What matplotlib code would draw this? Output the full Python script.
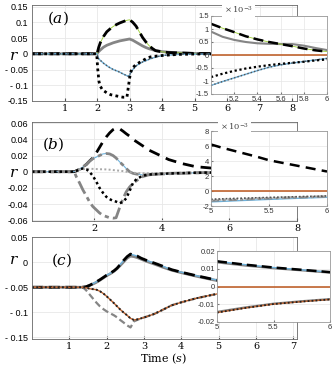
import matplotlib
matplotlib.use("Agg")
import matplotlib.pyplot as plt
import numpy as np

plt.rcParams["mathtext.fontset"] = "dejavuserif"

W, H = 335, 368

# ---------------- panel (a) data ----------------
ta = [0, 2.0, 2.05, 2.1, 2.2, 2.3, 2.4, 2.5, 2.6, 2.7, 2.8, 2.9, 3.0, 3.1, 3.2,
      3.3, 3.4, 3.5, 3.6, 3.7, 3.8, 4.0, 4.2, 4.5, 5.0, 6.0, 8.2]
a_dash = [0, 0, 0.02, 0.035, 0.055, 0.07, 0.079, 0.087, 0.093, 0.098, 0.102, 0.106,
          0.108, 0.100, 0.088, 0.070, 0.052, 0.038, 0.026, 0.017, 0.010, 0.006,
          0.004, 0.003, 0.0012, 0.0002, 0]
a_solid = [0, 0, 0.007, 0.012, 0.021, 0.027, 0.031, 0.035, 0.038, 0.041, 0.043,
           0.045, 0.047, 0.043, 0.037, 0.031, 0.025, 0.020, 0.016, 0.013, 0.010,
           0.007, 0.005, 0.003, 0.0009, 0.0002, 0]
ta_dot = [0, 1.99, 2.02, 2.06, 2.1, 2.17, 2.3, 2.42, 2.6, 2.8, 2.92, 2.97, 3.02,
          3.07, 3.2, 3.33, 3.5, 3.64, 3.85, 4.05, 4.5, 5.0, 6.0, 8.2]
a_dot = [0, 0, -0.047, -0.088, -0.103, -0.115, -0.124, -0.13, -0.134, -0.138,
         -0.138, -0.10, -0.065, -0.047, -0.034, -0.026, -0.016, -0.010, -0.007,
         -0.005, -0.002, -0.0008, -0.0002, 0]
ta_blue = [0, 2.0, 2.05, 2.2, 2.36, 2.5, 2.67, 2.8, 2.97, 3.1, 3.23, 3.4, 3.64,
           3.85, 4.05, 4.5, 5.0, 6.0, 8.2]
a_blue = [0, 0, -0.016, -0.03, -0.042, -0.05, -0.057, -0.064, -0.072, -0.05,
          -0.036, -0.026, -0.016, -0.009, -0.005, -0.002, -0.0012, -0.0002, 0]

# inset (a), values x 1e-3
tia = [5.0, 5.1, 5.2, 5.3, 5.4, 5.5, 5.6, 5.7, 5.8, 5.9, 6.0]
ia_dash = [1.2, 1.03, 0.88, 0.72, 0.6, 0.5, 0.42, 0.34, 0.25, 0.18, 0.13]
ia_solid = [0.9, 0.7, 0.58, 0.5, 0.45, 0.43, 0.42, 0.42, 0.36, 0.27, 0.19]
ia_dot = [-0.85, -0.72, -0.61, -0.52, -0.45, -0.39, -0.34, -0.3, -0.26, -0.21, -0.17]
ia_blue = [-1.17, -1.02, -0.88, -0.74, -0.6, -0.47, -0.38, -0.31, -0.25, -0.19, -0.13]

# ---------------- panel (b) data ----------------
tb = [0.15, 1.4, 1.46, 1.56, 1.66, 1.76, 1.85, 1.95, 2.05, 2.15, 2.25, 2.35, 2.45,
      2.55, 2.64, 2.75, 2.85, 2.94, 3.04, 3.14, 3.25, 3.43, 3.6, 3.9, 4.2, 4.6,
      5.0, 6.0, 8.0]
b_dash = [0, 0, 0.001, 0.003, 0.006, 0.009, 0.013, 0.017, 0.023, 0.030, 0.037,
          0.043, 0.048, 0.052, 0.054, 0.053, 0.050, 0.047, 0.044, 0.040, 0.037,
          0.032, 0.027, 0.021, 0.015, 0.010, 0.0062, 0.0025, 0]
b_top = [0, 0, 0.001, 0.003, 0.006, 0.009, 0.013, 0.016, 0.018, 0.020, 0.022,
         0.0225, 0.022, 0.020, 0.017, 0.012, 0.008, 0.004, 0.0, -0.002, -0.003,
         -0.004, -0.0035, -0.003, -0.0025, -0.002, -0.0014, -0.0008, 0]
b_lightdot = [0, 0, 0.001, 0.002, 0.003, 0.0035, 0.0035, 0.0035, 0.0033, 0.003,
              0.003, 0.0028, 0.0025, 0.002, 0.0017, 0.0012, 0.0007, 0.0, -0.0007,
              -0.0012, -0.0017, -0.002, -0.002, -0.002, -0.0018, -0.0016, -0.0013,
              -0.0007, 0]
b_dot = [0, 0, 0.001, 0.003, 0.004, 0.003, 0.0, -0.005, -0.012, -0.02, -0.026,
         -0.031, -0.034, -0.036, -0.037, -0.039, -0.037, -0.033, -0.024, -0.014,
         -0.009, -0.005, -0.0035, -0.0028, -0.0022, -0.0017, -0.0013, -0.0007, 0]
b_bot = [0, 0, -0.006, -0.014, -0.0227, -0.030, -0.037, -0.043, -0.047, -0.051,
         -0.054, -0.0555, -0.057, -0.0575, -0.057, -0.044, -0.033, -0.025, -0.019,
         -0.0145, -0.011, -0.006, -0.004, -0.0025, -0.002, -0.0016, -0.0013,
         -0.0007, 0]

# inset (b), values x 1e-3
tib = [5.0, 5.1, 5.2, 5.3, 5.4, 5.5, 5.6, 5.7, 5.8, 5.9, 6.0]
ib_dash = [6.2, 5.75, 5.35, 4.95, 4.55, 4.1, 3.8, 3.5, 3.2, 2.9, 2.6]
tib_low = [5.0, 5.25, 5.5, 5.75, 6.0]
ib_blue = [-1.45, -1.28, -1.12, -0.97, -0.84]
ib_dashdot = [-1.3, -1.15, -1.0, -0.87, -0.75]
ib_dot = [-1.2, -1.06, -0.93, -0.81, -0.7]
ib_bdot = [-1.1, -0.97, -0.86, -0.76, -0.66]

# ---------------- panel (c) data ----------------
tc = [0, 1.36, 1.45, 1.55, 1.65, 1.73, 1.82, 1.92, 2.0, 2.1, 2.2, 2.28, 2.36, 2.45,
      2.55, 2.64, 2.73, 2.82, 2.92, 3.05, 3.28, 3.5, 3.74, 4.0, 4.4, 4.84, 5.2,
      5.6, 6.0, 6.5, 7.1]
c_dash = [-0.05, -0.05, -0.049, -0.046, -0.042, -0.039, -0.035, -0.030, -0.026,
          -0.022, -0.017, -0.012, -0.005, 0.003, 0.011, 0.016, 0.014, 0.012, 0.008,
          0.004, -0.002, -0.008, -0.015, -0.02, -0.027, -0.034, -0.039, -0.043,
          -0.046, -0.049, -0.051]
c_solid = [-0.05, -0.05, -0.049, -0.046, -0.043, -0.04, -0.036, -0.031, -0.027,
           -0.023, -0.018, -0.013, -0.007, 0.0, 0.008, 0.012, 0.011, 0.009, 0.006,
           0.002, -0.004, -0.010, -0.016, -0.021, -0.028, -0.035, -0.04, -0.044,
           -0.047, -0.05, -0.052]
c_dot = [-0.05, -0.05, -0.051, -0.053, -0.054, -0.055, -0.058, -0.063, -0.068,
         -0.075, -0.082, -0.088, -0.094, -0.100, -0.106, -0.112, -0.115, -0.114,
         -0.112, -0.109, -0.103, -0.095, -0.086, -0.08, -0.072, -0.065, -0.06,
         -0.056, -0.052, -0.048, -0.045]
c_gdash = [-0.05, -0.05, -0.056, -0.065, -0.074, -0.081, -0.088, -0.094, -0.098,
           -0.102, -0.106, -0.11, -0.115, -0.12, -0.126, -0.13, -0.118, -0.115,
           -0.112, -0.109, -0.103, -0.095, -0.086, -0.08, -0.072, -0.065, -0.06,
           -0.056, -0.052, -0.048, -0.045]

# inset (c)
tic = [5.0, 5.25, 5.5, 5.75, 6.0]
ic_dash = [0.0142, 0.0123, 0.0107, 0.0094, 0.0081]
ic_solid = [0.0136, 0.0118, 0.0103, 0.0091, 0.0078]
ic_dot = [-0.0147, -0.0121, -0.0099, -0.0085, -0.0073]
ic_gray = [-0.0143, -0.0118, -0.0097, -0.0083, -0.0071]

# tick labels
a_yt = [0.15, 0.1, 0.05, 0, -0.05, -0.1, -0.15]
a_ytl = ["0.15", "0.1", "0.05", "0", "- 0.05", "- 0.1", "-0.15"]
b_yt = [0.06, 0.04, 0.02, 0, -0.02, -0.04, -0.06]
b_ytl = ["0.06", "0.04", "0.02", "0", "-0.02", "-0.04", "-0.06"]
c_yt = [0.05, 0, -0.05, -0.1, -0.15]
c_ytl = ["0.05", "0", "- 0.05", "- 0.1", "- 0.15"]

# styles
BLK = "black"
GRY = "#858585"
LGRY = "#a8a8a8"
BLUE = "#6fb3dd"
GRN = "#9acd32"
ORG = "#c0622d"
SERIF = "DejaVu Serif"
SANS = "Liberation Sans"


def box(l, r, t, b):
    return [l / W, 1 - b / H, (r - l) / W, (b - t) / H]


def style_main(ax, xlim, ylim, xt, yt, ytl):
    ax.set_xlim(*xlim)
    ax.set_ylim(*ylim)
    ax.set_xticks(xt)
    ax.set_xticklabels([str(v) for v in xt], fontfamily=SERIF, fontsize=7)
    ax.set_yticks(yt)
    ax.set_yticklabels(ytl, fontfamily=SANS, fontsize=6.5)
    ax.tick_params(axis="x", direction="in", length=2, pad=2, color="#555555")
    ax.tick_params(axis="y", length=0, pad=3)
    ax.grid(True, color="#e8e8e8", lw=0.6)
    ax.set_axisbelow(True)
    for s in ax.spines.values():
        s.set_color("#666666")
        s.set_linewidth(0.6)


def style_inset(ax, xlim, ylim, xt, xtl, yt, ytl):
    ax.set_xlim(*xlim)
    ax.set_ylim(*ylim)
    ax.set_xticks(xt)
    ax.set_xticklabels(xtl, fontfamily=SANS, fontsize=5.5, color="#333333")
    ax.set_yticks(yt)
    ax.set_yticklabels(ytl, fontfamily=SANS, fontsize=5.5, color="#333333")
    ax.tick_params(direction="in", length=1.5, pad=1.5, color="#777777")
    ax.grid(True, color="#e6e6e6", lw=0.5)
    ax.set_axisbelow(True)
    for s in ax.spines.values():
        s.set_color("#999999")
        s.set_linewidth(0.6)


fig = plt.figure(figsize=(W / 100, H / 100), dpi=100)

# ======== (a) ========
ax = fig.add_axes(box(32, 297, 5, 101))
ax.plot(ta, a_solid, color=GRY, lw=2)
ax.plot(ta, a_dash, color=GRN, lw=0.6)
ax.plot(ta, a_dash, color=BLK, lw=2, dashes=(4, 2))
ax.plot(ta_blue, a_blue, color=BLUE, lw=1)
ax.plot(ta_blue, a_blue, color="#555555", lw=1, dashes=(1, 1.5))
ax.plot(ta_dot, a_dot, color=BLK, lw=2, dashes=(1, 1.2))
style_main(ax, (0, 8.15), (-0.15, 0.155), list(range(1, 9)), a_yt, a_ytl)
ax.text(0.45, 0.1, "$(a)$", fontsize=11)
fig.text(9 / W, 1 - 55 / H, "$r$", fontsize=11, va="center")

ix = fig.add_axes(box(211, 327, 16, 94))
ix.axhline(0, color=ORG, lw=1.2)
ix.plot(tia, ia_solid, color=GRY, lw=1.5)
ix.plot(tia, ia_dash, color=GRN, lw=0.6)
ix.plot(tia, ia_dash, color=BLK, lw=1.8, dashes=(4, 2))
ix.plot(tia, ia_blue, color=BLUE, lw=1)
ix.plot(tia, ia_blue, color="#555555", lw=1, dashes=(1, 1.5))
ix.plot(tia, ia_dot, color=BLK, lw=1.6, dashes=(1, 1.2))
style_inset(ix, (5, 6), (-1.5, 1.5), [5.2, 5.4, 5.6, 5.8, 6.0],
            ["5.2", "5.4", "5.6", "5.8", "6"],
            [-1.5, -1, -0.5, 0, 0.5, 1, 1.5],
            ["-1.5", "-1", "-0.5", "0", "0.5", "1", "1.5"])
fig.text(224 / W, 1 - 10 / H, r"$\times\,10^{-3}$", fontsize=6, color="#444444",
         va="center", bbox=dict(fc="white", ec="none", pad=1.5))

# ======== (b) ========
ax = fig.add_axes(box(32, 297, 122, 221))
ax.plot(tb, b_dash, color=BLK, lw=2, dashes=(4, 2.5))
ax.plot(tb, b_top, color=BLUE, lw=0.8)
ax.plot(tb, b_top, color=GRY, lw=2, dashes=(5, 1.5, 1.5, 1.5))
ax.plot(tb, b_lightdot, color=LGRY, lw=1.4, dashes=(1, 1.2))
ax.plot(tb, b_bot, color=GRY, lw=2, dashes=(5, 1.5, 1.5, 1.5))
ax.plot(tb, b_dot, color=BLK, lw=1.8, dashes=(1, 1.2))
style_main(ax, (0.15, 8.0), (-0.061, 0.0615), [2, 4, 6, 8], b_yt, b_ytl)
ax.text(0.45, 0.028, "$(b)$", fontsize=11)
fig.text(9 / W, 1 - 172 / H, "$r$", fontsize=11, va="center")

ix = fig.add_axes(box(211, 327, 131, 206))
ix.axhline(0, color=ORG, lw=1.2)
ix.plot(tib_low, ib_blue, color=BLUE, lw=1)
ix.plot(tib_low, ib_dashdot, color=GRY, lw=1.5, dashes=(4, 1.5, 1.5, 1.5))
ix.plot(tib_low, ib_dot, color=LGRY, lw=1.5, dashes=(1, 1))
ix.plot(tib_low, ib_bdot, color="#555555", lw=1.2, dashes=(1, 1.2))
ix.plot(tib, ib_dash, color=BLK, lw=1.8, dashes=(4, 2.5))
style_inset(ix, (5, 6), (-2, 8), [5, 5.5, 6], ["5", "5.5", "6"],
            [-2, 0, 2, 4, 6, 8], ["-2", "0", "2", "4", "6", "8"])
fig.text(220 / W, 1 - 127 / H, r"$\times\,10^{-3}$", fontsize=6, color="#444444",
         va="center", bbox=dict(fc="white", ec="none", pad=1.5))

# ======== (c) ========
ax = fig.add_axes(box(32, 297, 237, 339))
ax.plot(tc, c_solid, color=GRY, lw=2)
ax.plot(tc, c_dash, color=BLUE, lw=1)
ax.plot(tc, c_dash, color=BLK, lw=2, dashes=(4, 2))
ax.plot(tc, c_gdash, color=GRY, lw=1.6, dashes=(3, 1.5))
ax.plot(tc, c_dot, color=ORG, lw=1)
ax.plot(tc, c_dot, color="#222222", lw=1.4, dashes=(1, 1.2))
style_main(ax, (0, 7.1), (-0.153, 0.05), list(range(1, 8)), c_yt, c_ytl)
ax.text(0.5, -0.005, "$(c)$", fontsize=11)
fig.text(9 / W, 1 - 259 / H, "$r$", fontsize=11, va="center")
fig.text(164 / W, 1 - 359 / H, "Time $(s)$", fontsize=8, ha="center",
         va="center", fontfamily=SERIF)

ix = fig.add_axes(box(217, 330, 251, 322))
ix.axhline(0, color=ORG, lw=1.2)
ix.plot(tic, ic_solid, color=GRY, lw=1.6)
ix.plot(tic, ic_dash, color=BLUE, lw=1)
ix.plot(tic, ic_dash, color=BLK, lw=1.8, dashes=(4, 2))
ix.plot(tic, ic_gray, color=GRY, lw=1.6)
ix.plot(tic, ic_dot, color=ORG, lw=1)
ix.plot(tic, ic_dot, color="#222222", lw=1.3, dashes=(1, 1.2))
style_inset(ix, (5, 6), (-0.02, 0.02), [5, 5.5, 6], ["5", "5.5", "6"],
            [-0.02, -0.01, 0, 0.01, 0.02], ["-0.02", "-0.01", "0", "0.01", "0.02"])

fig.savefig("out.png", dpi=100)
